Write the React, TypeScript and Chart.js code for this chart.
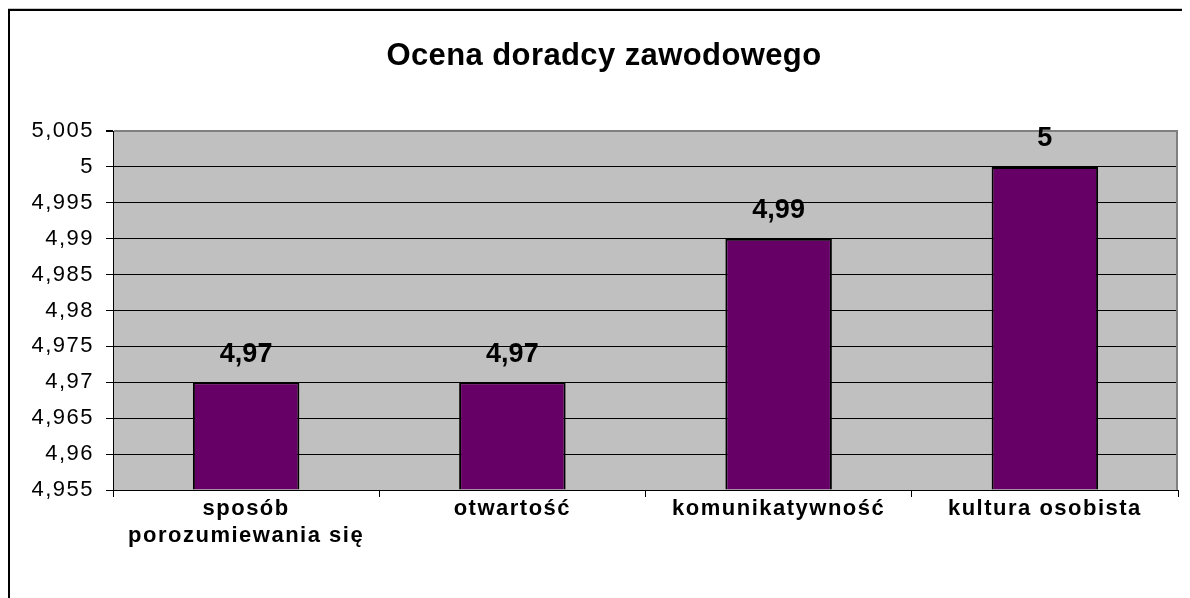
import React, { useEffect, useRef } from "react";
import { Chart, registerables } from "chart.js";

Chart.register(...registerables);

const chartTitle = "Ocena doradcy zawodowego";
const categories: (string | string[])[] = [
  ["sposób", "porozumiewania się"],
  "otwartość",
  "komunikatywność",
  "kultura osobista",
];
const values = [4.97, 4.97, 4.99, 5];
const yMin = 4.955;
const yMax = 5.005;
const yStep = 0.005;
const yTickLabels = [
  "4,955", "4,96", "4,965", "4,97", "4,975", "4,98",
  "4,985", "4,99", "4,995", "5", "5,005",
];

const FONT = "'Liberation Sans', Arial, Helvetica, sans-serif";
const CANVAS_W = 1182;
const CANVAS_H = 590;

const formatValue = (v: number) => String(v).replace(".", ",");

const backgroundPlugin = {
  id: "excelBackground",
  beforeDraw(chart: any) {
    const { ctx, chartArea } = chart;
    const w = chart.width;
    const h = chart.height;
    ctx.save();
    ctx.fillStyle = "#ffffff";
    ctx.fillRect(0, 0, w, h);
    // outer frame (only left & top visible in the window)
    ctx.fillStyle = "#c8c8c8";
    ctx.fillRect(0, 0, w, 1);
    ctx.fillStyle = "#000000";
    ctx.fillRect(0, 1, w, 2);
    ctx.fillRect(0, 1, 2, h);
    // plot area
    ctx.fillStyle = "#c0c0c0";
    ctx.fillRect(
      chartArea.left,
      chartArea.top,
      chartArea.right - chartArea.left,
      chartArea.bottom - chartArea.top
    );
    ctx.restore();
    // wider glyph spacing for the axis labels, as in the original
    ctx.letterSpacing = "1.5px";
  },
  beforeDatasetsDraw(chart: any) {
    const { ctx, chartArea } = chart;
    ctx.letterSpacing = "0px";
    ctx.save();
    ctx.strokeStyle = "#808080";
    ctx.lineWidth = 2;
    ctx.beginPath();
    ctx.moveTo(chartArea.right - 1, chartArea.top);
    ctx.lineTo(chartArea.right - 1, chartArea.bottom);
    ctx.stroke();
    ctx.restore();
  },
  afterDatasetsDraw(chart: any) {
    const { ctx } = chart;
    const meta = chart.getDatasetMeta(0);
    ctx.save();
    ctx.fillStyle = "#000000";
    ctx.font = `bold 27px ${FONT}`;
    ctx.textAlign = "center";
    ctx.textBaseline = "alphabetic";
    meta.data.forEach((bar: any, i: number) => {
      ctx.fillText(formatValue(values[i]), bar.x, bar.y - 20.5);
    });
    ctx.restore();
  },
  afterDraw(chart: any) {
    const { ctx } = chart;
    ctx.save();
    ctx.letterSpacing = "0.4px";
    ctx.fillStyle = "#000000";
    ctx.font = `bold 31px ${FONT}`;
    ctx.textAlign = "center";
    ctx.textBaseline = "alphabetic";
    ctx.fillText(chartTitle, 596, 57);
    ctx.restore();
  },
};

export default function App() {
  const canvasRef = useRef<HTMLCanvasElement | null>(null);

  useEffect(() => {
    document.documentElement.style.overflow = "hidden";
    document.body.style.overflow = "hidden";
    const canvas = canvasRef.current;
    if (!canvas) return;
    const chart = new Chart(canvas, {
      type: "bar",
      data: {
        labels: categories,
        datasets: [
          {
            data: values,
            base: yMin,
            backgroundColor: "#660066",
            borderColor: "#000000",
            borderWidth: 2,
            borderSkipped: "bottom",
            barPercentage: 1,
            categoryPercentage: 0.4,
          } as any,
        ],
      },
      options: {
        animation: false,
        responsive: false,
        devicePixelRatio: 1,
        layout: { padding: { top: 123, right: 12, bottom: 0, left: 0 } },
        plugins: {
          legend: { display: false },
          title: { display: false },
          tooltip: { enabled: false },
        },
        scales: {
          x: {
            grid: {
              display: true,
              offset: true,
              drawOnChartArea: false,
              drawTicks: true,
              tickLength: 7,
              tickColor: "#000000",
              color: "#000000",
            },
            border: { color: "#000000", width: 1 },
            ticks: {
              color: "#000000",
              font: { family: FONT, size: 22, weight: "bold", lineHeight: 1.2 },
              padding: -1,
              maxRotation: 0,
              minRotation: 0,
              autoSkip: false,
            },
            afterFit(scale: any) {
              scale.height = 108;
            },
          },
          y: {
            min: yMin,
            max: yMax,
            grid: {
              color: (ctx: any) =>
                ctx.tick && Math.abs(ctx.tick.value - yMax) < 1e-9 ? "#808080" : "#000000",
              lineWidth: (ctx: any) =>
                ctx.tick && Math.abs(ctx.tick.value - yMax) < 1e-9 ? 2 : 1,
              drawTicks: true,
              tickLength: 7,
              tickColor: "#000000",
            },
            border: { color: "#000000", width: 1 },
            ticks: {
              stepSize: yStep,
              color: "#000000",
              font: { family: FONT, size: 22 },
              padding: 12,
              callback: (v: any) => yTickLabels[Math.round((Number(v) - yMin) / yStep)],
            },
            afterFit(scale: any) {
              scale.width = 105;
            },
          },
        },
      } as any,
      plugins: [backgroundPlugin],
    });
    return () => chart.destroy();
  }, []);

  return (
    <canvas
      ref={canvasRef}
      width={CANVAS_W}
      height={CANVAS_H}
      style={{ width: `${CANVAS_W}px`, height: `${CANVAS_H}px`, display: "block" }}
    />
  );
}
